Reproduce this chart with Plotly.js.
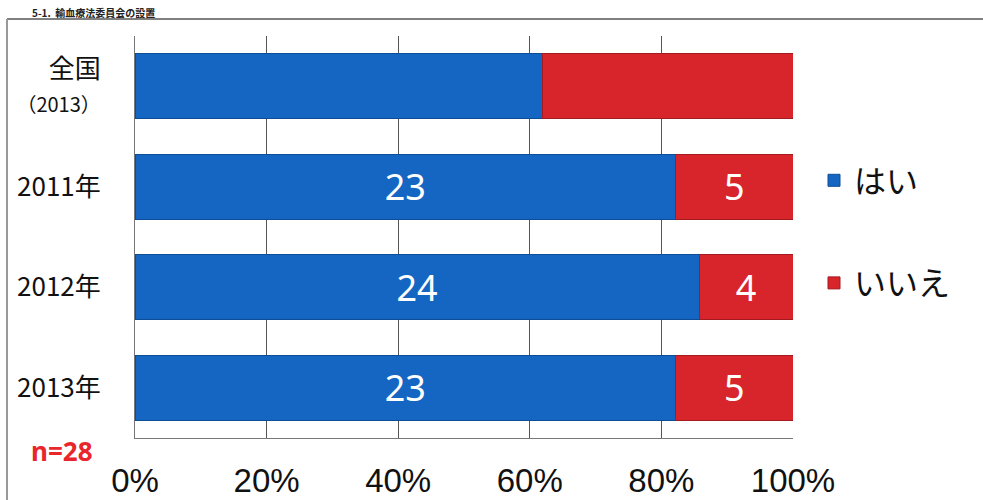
<!DOCTYPE html>
<html>
<head>
<meta charset="utf-8">
<script src="https://cdn.plot.ly/plotly-3.0.1.min.js"></script>
<style>
  html, body { margin: 0; padding: 0; background: #fff; }
  #chart { width: 983px; height: 500px; }
</style>
</head>
<body>
<div id="chart"></div>
<script>
// ---- data ----
const categories = ['全国<br><span style="font-size:20px">（2013）</span>', '2011年', '2012年', '2013年'];
const seriesNames = ['はい', 'いいえ'];
// 全国 given as percentage shares, years given as counts (n=28)
const haiValues = [61.9, 23, 24, 23];
const iieValues = [38.1, 5, 4, 5];
const haiLabels = ['', '23', '24', '23'];
const iieLabels = ['', '5', '4', '5'];
const xTickVals = [0, 20, 40, 60, 80, 100];
const xTickText = ['0%', '20%', '40%', '60%', '80%', '100%'];
const titleText = '5-1.  輸血療法委員会の設置';
const noteText = 'n=28';

const inBarFont = { family: 'Noto Sans, sans-serif', size: 36, color: '#ffffff' };

const traces = [
  {
    type: 'bar', orientation: 'h', name: seriesNames[0], legendgroup: 'a',
    y: categories, x: haiValues, text: haiLabels,
    textposition: 'inside', insidetextanchor: 'middle', textangle: 0,
    textfont: inBarFont, constraintext: 'none',
    marker: { color: '#1566c2', line: { color: '#0d4d96', width: 1 } },
    hoverinfo: 'none'
  },
  {
    type: 'bar', orientation: 'h', name: seriesNames[1], legendgroup: 'b',
    y: categories, x: iieValues, text: iieLabels,
    textposition: 'inside', insidetextanchor: 'middle', textangle: 0,
    textfont: inBarFont, constraintext: 'none',
    marker: { color: '#d8252b', line: { color: '#a31a1f', width: 1 } },
    hoverinfo: 'none'
  }
];

const L = 135, R = 793, T = 36, B = 438, W = 983, H = 500;
const px = v => (v - L) / (R - L);
const py = v => (B - v) / (B - T);

const layout = {
  width: W, height: H,
  margin: { l: L, r: W - R, t: T, b: H - B, pad: 0 },
  paper_bgcolor: '#ffffff', plot_bgcolor: '#ffffff',
  barmode: 'stack', barnorm: 'percent', bargap: 0.35,
  font: { family: 'Noto Sans CJK JP, sans-serif', color: '#111' },
  xaxis: {
    range: [0, 100], tickvals: xTickVals, ticktext: xTickText,
    showgrid: true, gridcolor: '#555', gridwidth: 1,
    zeroline: false, showline: true, linecolor: '#777', linewidth: 1,
    ticks: '', ticklabelstandoff: 13,
    tickfont: { family: 'Liberation Sans Narrow, sans-serif', size: 33, color: '#111' },
    fixedrange: true
  },
  yaxis: {
    autorange: 'reversed', type: 'category',
    showgrid: false, zeroline: false, showline: true, linecolor: '#777', linewidth: 1,
    ticks: '', ticklabelstandoff: 28,
    tickfont: { family: 'Noto Sans CJK JP, sans-serif', size: 26, color: '#111' },
    fixedrange: true
  },
  showlegend: true,
  legend: {
    x: px(814), xanchor: 'left', y: py(153), yanchor: 'top',
    traceorder: 'grouped', tracegroupgap: 58,
    font: { family: 'Noto Sans CJK JP, sans-serif', size: 32, color: '#111' },
    bgcolor: 'rgba(0,0,0,0)', itemwidth: 30
  },
  annotations: [
    {
      xref: 'paper', yref: 'paper', x: px(30), y: py(3),
      xanchor: 'left', yanchor: 'top', showarrow: false,
      text: '<b>' + titleText + '</b>',
      font: { family: 'Noto Sans CJK JP, sans-serif', size: 10, color: '#222' }
    },
    {
      xref: 'paper', yref: 'paper', x: px(62), y: py(451),
      xanchor: 'center', yanchor: 'middle', showarrow: false,
      text: '<b>' + noteText + '</b>',
      font: { family: 'Noto Sans, sans-serif', size: 26, color: '#e8262b' }
    }
  ],
  shapes: [
    { type: 'line', xref: 'paper', yref: 'paper', x0: px(7), x1: px(983), y0: py(19), y1: py(19),
      line: { color: '#808080', width: 2 } },
    { type: 'line', xref: 'paper', yref: 'paper', x0: px(7), x1: px(7), y0: py(19), y1: py(500),
      line: { color: '#999', width: 2 } }
  ]
};

Plotly.newPlot('chart', traces, layout, { displayModeBar: false, staticPlot: true });
</script>
</body>
</html>
